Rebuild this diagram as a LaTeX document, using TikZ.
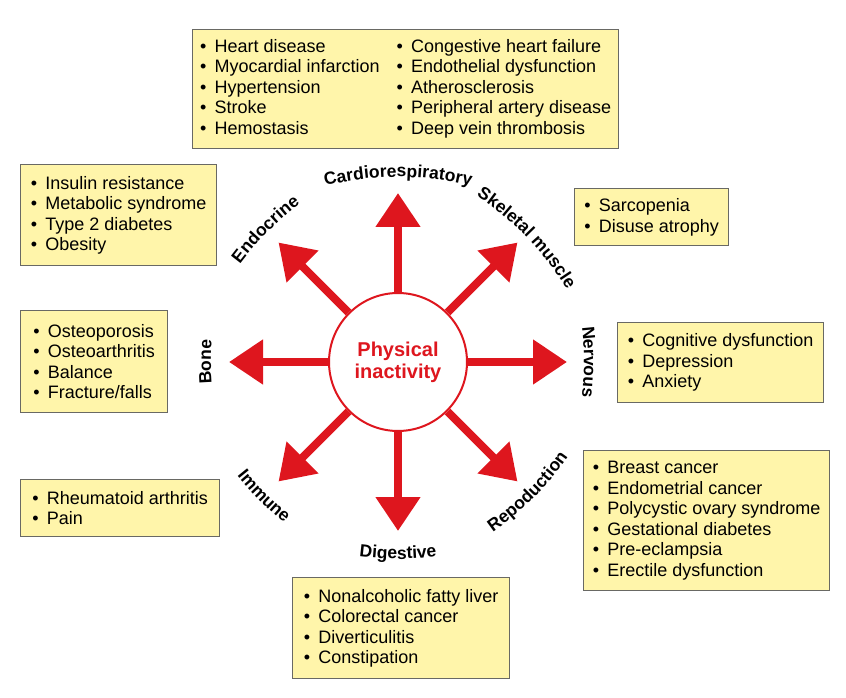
\documentclass[tikz,border=0pt]{standalone}
\usepackage{fontspec}
\setmainfont{Liberation Sans}
\usepackage{tikz}
\usetikzlibrary{positioning, arrows.meta, decorations.text, calc}

\definecolor{physred}{RGB}{222,22,30}
\definecolor{boxfill}{RGB}{255,245,170}
\definecolor{boxline}{RGB}{105,105,100}

\def\itm#1{\makebox[0.8em][l]{\textbullet}#1}
\def\lblfont{\fontsize{17.5}{20}\selectfont\bfseries}

\tikzset{
    listbox/.style={draw=boxline, line width=1.3pt, fill=boxfill, anchor=north west,
        inner sep=0pt, align=left, font=\fontsize{18}{20.5}\selectfont},
    effect/.style={physred, line width=8pt, -{Triangle[length=34pt,width=43pt]}},
}

\begin{document}
\begin{tikzpicture}[x=1pt,y=1pt]
    \useasboundingbox (0,0) rectangle (846,697);

    \node[circle, draw=physred, line width=2pt, fill=white, minimum size=138pt, inner sep=0pt,
        align=center, text=physred, font=\fontsize{20}{22}\selectfont\bfseries]
        (phys) at (398,335) {Physical\\inactivity};

    % arrows
    \foreach \ang in {0,45,...,315}
    {
        \coordinate (tip\ang) at ($(phys.center)+(\ang:169pt)$);
        \draw[effect] (phys.\ang) -- (tip\ang);
    }

    % labels, tops outward
    \foreach \ang/\base/\txt in {
        90/185/Cardiorespiratory,
        135/184/Endocrine,
        44/179/Skeletal muscle,
        0/186/Nervous,
        180/187/Bone}
    {
        \pgfmathsetmacro\off{\base-300}
        \path[decorate, decoration={text along path, text/.expanded={|\noexpand\lblfont|\txt}, text align=center}]
            ($(phys.center)+(\ang:\off pt)+(\ang+35:300pt)$)
            arc[start angle=\ang+35, end angle=\ang-35, radius=300pt];
    }

    % labels, tops inward
    \foreach \ang/\base/\txt in {
        225/196/Immune,
        270/197/Digestive,
        315/192/Repoduction}
    {
        \pgfmathsetmacro\off{\base-300}
        \path[decorate, decoration={text along path, text/.expanded={|\noexpand\lblfont|\txt}, text align=center}]
            ($(phys.center)+(\ang:\off pt)+(\ang-35:300pt)$)
            arc[start angle=\ang-35, end angle=\ang+35, radius=300pt];
    }

    % lists
    \node[listbox, minimum width=426pt, minimum height=119pt] (cardio) at (192,668) {%
        \begin{tabular}{@{}l@{\hspace{17pt}}l@{}}
            \itm{Heart disease} & \itm{Congestive heart failure}\\
            \itm{Myocardial infarction} & \itm{Endothelial dysfunction}\\
            \itm{Hypertension} & \itm{Atherosclerosis}\\
            \itm{Stroke} & \itm{Peripheral artery disease}\\
            \itm{Hemostasis} & \itm{Deep vein thrombosis}
        \end{tabular}};

    \node[listbox, minimum width=196pt, minimum height=101pt] (endo) at (20,533)
        {\itm{Insulin resistance}\\\itm{Metabolic syndrome}\\\itm{Type 2 diabetes}\\\itm{Obesity}};

    \node[listbox, minimum width=154pt, minimum height=57pt] (skel) at (574,509)
        {\itm{Sarcopenia}\\\itm{Disuse atrophy}};

    \node[listbox, minimum width=147pt, minimum height=102pt] (bone) at (20,387)
        {\itm{Osteoporosis}\\\itm{Osteoarthritis}\\\itm{Balance}\\\itm{Fracture/falls}};

    \node[listbox, minimum width=206pt, minimum height=80pt] (nerv) at (617,375)
        {\itm{Cognitive dysfunction}\\\itm{Depression}\\\itm{Anxiety}};

    \node[listbox, minimum width=199pt, minimum height=57pt] (immu) at (20,218)
        {\itm{Rheumatoid arthritis}\\\itm{Pain}};

    \node[listbox, minimum width=246pt, minimum height=140pt] (repr) at (583,247)
        {\itm{Breast cancer}\\\itm{Endometrial cancer}\\\itm{Polycystic ovary syndrome}\\
         \itm{Gestational diabetes}\\\itm{Pre-eclampsia}\\\itm{Erectile dysfunction}};

    \node[listbox, minimum width=217pt, minimum height=101pt] (dige) at (292,120)
        {\itm{Nonalcoholic fatty liver}\\\itm{Colorectal cancer}\\\itm{Diverticulitis}\\\itm{Constipation}};
\end{tikzpicture}
\end{document}
